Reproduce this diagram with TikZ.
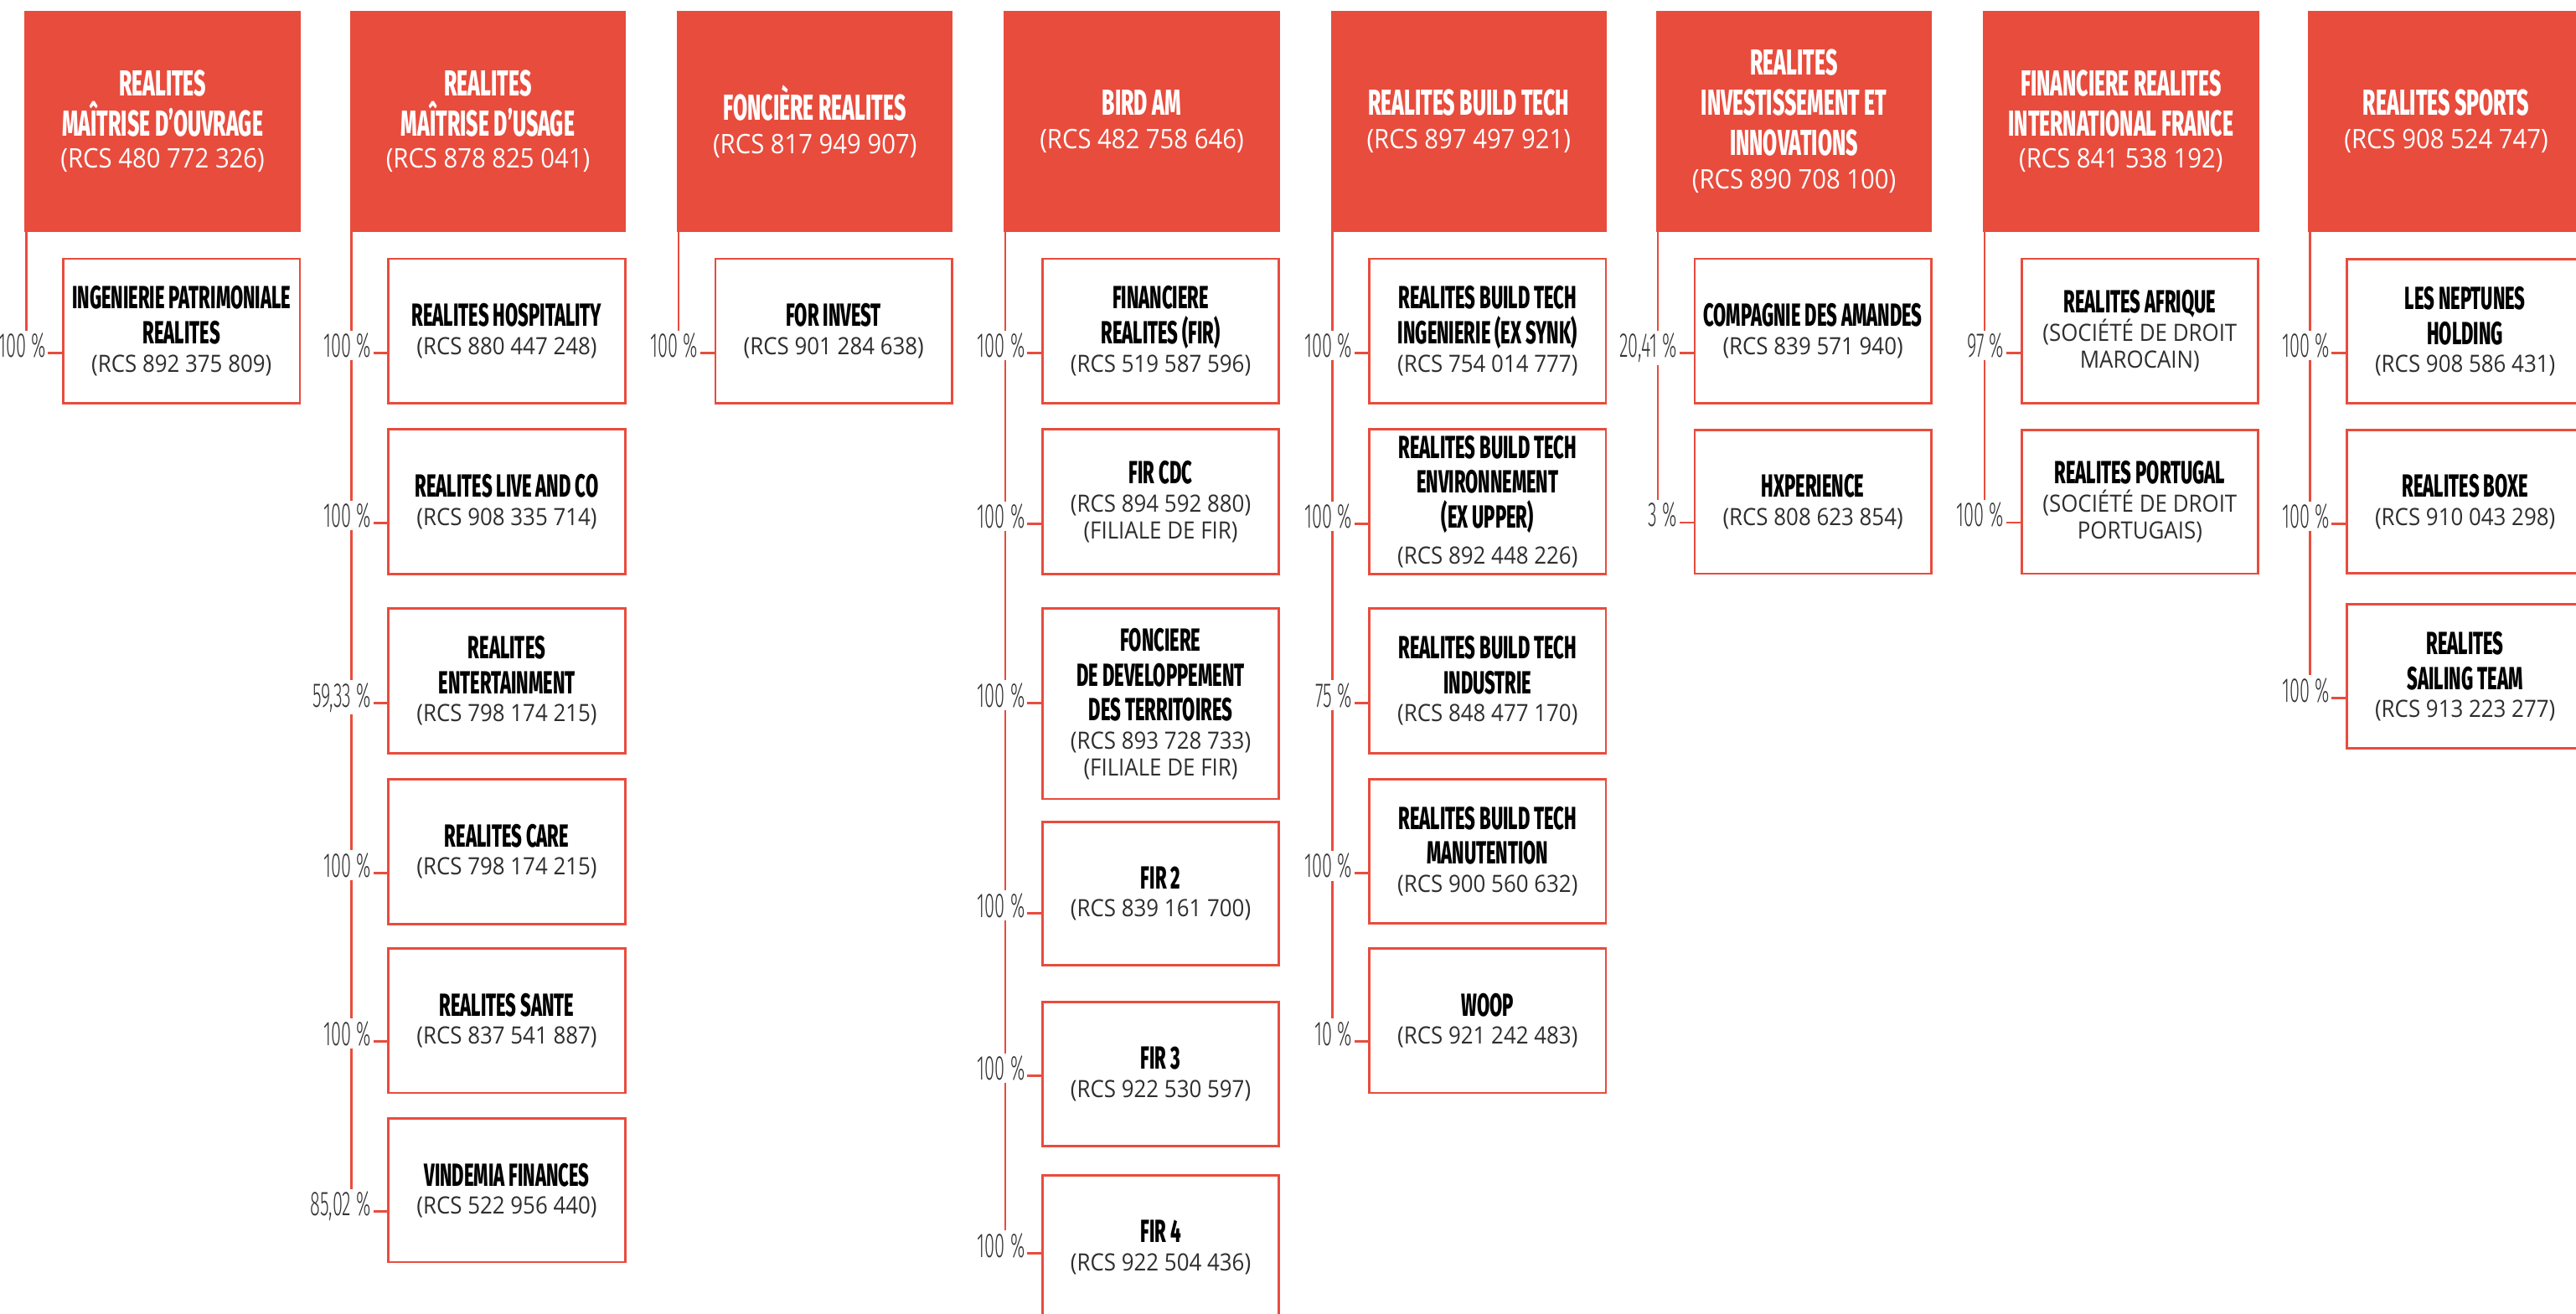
\documentclass[tikz,border=0pt]{standalone}
\usepackage{fontspec}
\usetikzlibrary{calc}
\IfFontExistsTF{Fira Sans ExtraBold}
  {\newfontfamily\HFam[FakeStretch=0.575]{Fira Sans ExtraBold}\newcommand\HSel{\HFam}}
  {\newfontfamily\HFam[FakeStretch=0.6]{Fira Sans}\newcommand\HSel{\HFam\bfseries}}
\IfFontExistsTF{Fira Sans Light}{\newfontfamily\PFam[FakeStretch=0.53]{Fira Sans Light}}{\newfontfamily\PFam[FakeStretch=0.53]{Fira Sans}}
\newfontfamily\RFam[FakeStretch=0.91]{Open Sans}
\definecolor{rred}{HTML}{E84C3D}
\definecolor{pgrey}{HTML}{333333}
\definecolor{rgrey}{HTML}{2E2E2E}
\newcommand\HdrFont{\HSel\fontsize{22}{24.7}\selectfont}
\newcommand\ChdFont{\HSel\fontsize{19.5}{21.3}\selectfont}
\newcommand\PctFont{\PFam\fontsize{21}{21}\selectfont}
\newcommand\HdrR[1]{{\RFam\mdseries\fontsize{16.4}{15}\selectfont #1}}
\newcommand\ChdR[1]{{\RFam\mdseries\fontsize{14.5}{13}\selectfont\color{rgrey}#1}}
% #1 name, #2 column left x, #3 text
\newcommand\HeadBox[3]{%
  \node[hbox] (#1) at ({#2+84},73.75) {#3};}
% #1 name, #2 column left x, #3 top, #4 bottom, #5 stub y, #6 text, #7 percentage
\newcommand\ChildBox[7]{%
  \node[cbox, minimum height={#4-#3}] (#1) at ({#2+95.5},{(#3+#4)/2}) {#6};
  \coordinate (#1s) at ({#2+1},#5);
  \draw[link] (#1s) -- (#1s -| #1.west);
  \node[pct] (#1p) at ({#2+14.5},{#5+2.5}) {#7};}
\begin{document}
\begin{tikzpicture}[x=1pt,y=-1pt,
  link/.style={draw=rred,line width=1.3pt},
  hbox/.style={fill=rred,draw=none,minimum width=168pt,minimum height=134.5pt,inner sep=0pt,align=center,text=white,font=\HdrFont},
  cbox/.style={draw=rred,line width=1.4pt,fill=white,minimum width=144pt,inner sep=0pt,align=center,text=black,font=\ChdFont},
  pct/.style={anchor=base east,fill=white,inner xsep=1.5pt,inner ysep=1.5pt,text=pgrey,font=\PctFont}]
\useasboundingbox (0,0) rectangle (1568,800);
\clip (0,0) rectangle (1568,800);
\fill[white] (0,0) rectangle (1568,800);

% ---------- headers ----------
\HeadBox{h1}{15}{REALITES\\MAÎTRISE D’OUVRAGE\\[-5.2pt]\HdrR{(RCS 480 772 326)}}
\HeadBox{h2}{213}{REALITES\\MAÎTRISE D’USAGE\\[-5.2pt]\HdrR{(RCS 878 825 041)}}
\HeadBox{h3}{412}{FONCIÈRE REALITES\\[-4.3pt]\HdrR{(RCS 817 949 907)}}
\HeadBox{h4}{611}{BIRD AM\\[-4.3pt]\HdrR{(RCS 482 758 646)}}
\HeadBox{h5}{810}{REALITES BUILD TECH\\[-4.3pt]\HdrR{(RCS 897 497 921)}}
\HeadBox{h6}{1008}{REALITES\\INVESTISSEMENT ET\\INNOVATIONS\\[-4.3pt]\HdrR{(RCS 890 708 100)}}
\HeadBox{h7}{1207}{FINANCIERE REALITES\\INTERNATIONAL FRANCE\\[-5.2pt]\HdrR{(RCS 841 538 192)}}
\HeadBox{h8}{1405}{REALITES SPORTS\\[-4.3pt]\HdrR{(RCS 908 524 747)}}

% ---------- column 1 ----------
\coordinate (t1) at (16,0);
\draw[link] (t1 |- h1.south) -- (t1 |- 0,215);
\ChildBox{c11}{15}{157.5}{245.5}{215}{INGENIERIE PATRIMONIALE\\REALITES\\[-4.3pt]\ChdR{(RCS 892 375 809)}}{100 \%}

% ---------- column 2 ----------
\coordinate (t2) at (214,0);
\draw[link] (t2 |- h2.south) -- (t2 |- 0,737.7);
\ChildBox{c21}{213}{157.5}{245.5}{215}{REALITES HOSPITALITY\\[-4.3pt]\ChdR{(RCS 880 447 248)}}{100 \%}
\ChildBox{c22}{213}{261.5}{349.5}{318.5}{REALITES LIVE AND CO\\[-4.3pt]\ChdR{(RCS 908 335 714)}}{100 \%}
\ChildBox{c23}{213}{370.5}{458.5}{428}{REALITES\\ENTERTAINMENT\\[-4.3pt]\ChdR{(RCS 798 174 215)}}{59,33 \%}
\ChildBox{c24}{213}{474.5}{562.5}{531.5}{REALITES CARE\\[-4.3pt]\ChdR{(RCS 798 174 215)}}{100 \%}
\ChildBox{c25}{213}{577.5}{665.5}{634}{REALITES SANTE\\[-4.3pt]\ChdR{(RCS 837 541 887)}}{100 \%}
\ChildBox{c26}{213}{681}{768.5}{737.7}{VINDEMIA FINANCES\\[-4.3pt]\ChdR{(RCS 522 956 440)}}{85,02 \%}

% ---------- column 3 ----------
\coordinate (t3) at (413,0);
\draw[link] (t3 |- h3.south) -- (t3 |- 0,215);
\ChildBox{c31}{412}{157.5}{245.5}{215}{FOR INVEST\\[-4.3pt]\ChdR{(RCS 901 284 638)}}{100 \%}

% ---------- column 4 ----------
\coordinate (t4) at (612,0);
\draw[link] (t4 |- h4.south) -- (t4 |- 0,763);
\ChildBox{c41}{611}{157.5}{245.5}{215}{FINANCIERE\\REALITES (FIR)\\[-4.3pt]\ChdR{(RCS 519 587 596)}}{100 \%}
\ChildBox{c42}{611}{261.5}{349.5}{319}{FIR CDC\\[-4.3pt]\ChdR{(RCS 894 592 880)}\\[-5.1pt]\ChdR{(FILIALE DE FIR)}}{100 \%}
\ChildBox{c43}{611}{370.5}{486.5}{428}{FONCIERE\\DE DEVELOPPEMENT\\DES TERRITOIRES\\[-4.3pt]\ChdR{(RCS 893 728 733)}\\[-5.1pt]\ChdR{(FILIALE DE FIR)}}{100 \%}
\ChildBox{c44}{611}{500.5}{587.5}{556}{FIR 2\\[-4.3pt]\ChdR{(RCS 839 161 700)}}{100 \%}
\ChildBox{c45}{611}{610}{698}{655}{FIR 3\\[-4.3pt]\ChdR{(RCS 922 530 597)}}{100 \%}
\ChildBox{c46}{611}{715.5}{803.5}{763}{FIR 4\\[-4.3pt]\ChdR{(RCS 922 504 436)}}{100 \%}

% ---------- column 5 ----------
\coordinate (t5) at (811,0);
\draw[link] (t5 |- h5.south) -- (t5 |- 0,634);
\ChildBox{c51}{810}{157.5}{245.5}{215}{REALITES BUILD TECH\\INGENIERIE (EX SYNK)\\[-4.3pt]\ChdR{(RCS 754 014 777)}}{100 \%}
\ChildBox{c52}{810}{261.5}{349.5}{319}{REALITES BUILD TECH\\ENVIRONNEMENT\\(EX UPPER)\\[0.7pt]\ChdR{(RCS 892 448 226)}}{100 \%}
\ChildBox{c53}{810}{370.5}{458.5}{428}{REALITES BUILD TECH\\INDUSTRIE\\[-4.3pt]\ChdR{(RCS 848 477 170)}}{75 \%}
\ChildBox{c54}{810}{474.5}{562}{531.7}{REALITES BUILD TECH\\MANUTENTION\\[-4.3pt]\ChdR{(RCS 900 560 632)}}{100 \%}
\ChildBox{c55}{810}{577.6}{665.5}{634}{WOOP\\[-4.3pt]\ChdR{(RCS 921 242 483)}}{10 \%}

% ---------- column 6 ----------
\coordinate (t6) at (1009,0);
\draw[link] (t6 |- h6.south) -- (t6 |- 0,318.2);
\ChildBox{c61}{1008}{157.5}{245.5}{215}{COMPAGNIE DES AMANDES\\[-4.3pt]\ChdR{(RCS 839 571 940)}}{20,41 \%}
\ChildBox{c62}{1008}{261.7}{349.3}{318.2}{HXPERIENCE\\[-4.3pt]\ChdR{(RCS 808 623 854)}}{3 \%}

% ---------- column 7 ----------
\coordinate (t7) at (1208,0);
\draw[link] (t7 |- h7.south) -- (t7 |- 0,318.2);
\ChildBox{c71}{1207}{157.5}{245.5}{215}{REALITES AFRIQUE\\[-4.3pt]\ChdR{(SOCIÉTÉ DE DROIT}\\[-5.1pt]\ChdR{MAROCAIN)}}{97 \%}
\ChildBox{c72}{1207}{261.7}{349.3}{318.2}{REALITES PORTUGAL\\[-4.3pt]\ChdR{(SOCIÉTÉ DE DROIT}\\[-5.1pt]\ChdR{PORTUGAIS)}}{100 \%}

% ---------- column 8 ----------
\coordinate (t8) at (1406,0);
\draw[link] (t8 |- h8.south) -- (t8 |- 0,425);
\ChildBox{c81}{1405}{158}{245.5}{215}{LES NEPTUNES\\HOLDING\\[-4.3pt]\ChdR{(RCS 908 586 431)}}{100 \%}
\ChildBox{c82}{1405}{262}{349}{319}{REALITES BOXE\\[-4.3pt]\ChdR{(RCS 910 043 298)}}{100 \%}
\ChildBox{c83}{1405}{368}{455.5}{425}{REALITES\\SAILING TEAM\\[-4.3pt]\ChdR{(RCS 913 223 277)}}{100 \%}
\end{tikzpicture}
\end{document}
